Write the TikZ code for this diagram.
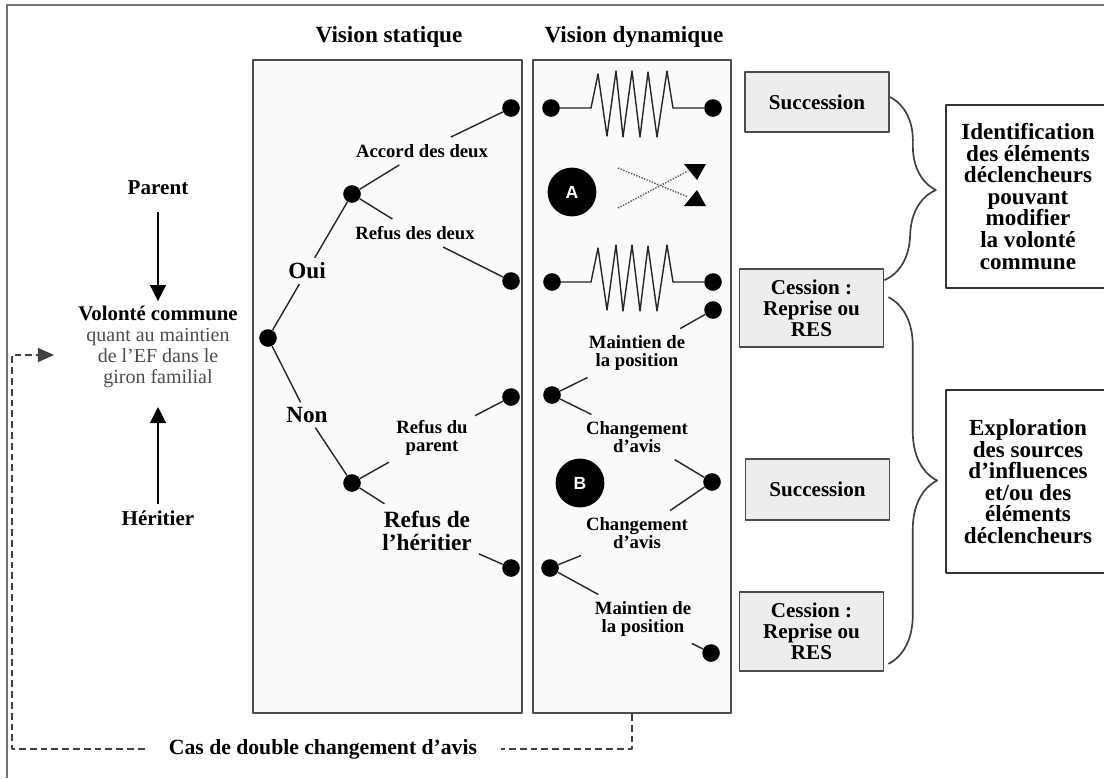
\documentclass[tikz,border=0pt]{standalone}
\usepackage{fontspec}
\setmainfont{Liberation Serif}
\newfontfamily\lettre{Liberation Sans}
\usetikzlibrary{arrows.meta,decorations.pathreplacing,calc}

% ressort entre deux points, #1 = ordonnee de la ligne
\newcommand{\ressort}[1]{-- (591,#1) -- (598,#1-34) -- (607,#1+28) -- (616,#1-37) -- (623,#1+29) -- (632,#1-37) -- (640,#1+29) -- (648,#1-36) -- (657,#1+29) -- (667,#1-37) -- (673,#1)}

\begin{document}
\begin{tikzpicture}[x=0.025cm, y=-0.025cm, line join=round,
  cadre/.style={draw=black!70, line width=1.2pt, fill=black!2, minimum height=16.325cm},
  boite/.style={draw=black!70, line width=1.2pt, fill=black!7, minimum width=3.6cm, align=center, font=\fontsize{15}{15}\selectfont\bfseries},
  grande/.style={draw=black!80, line width=1.3pt, fill=white, minimum width=4.1cm, minimum height=4.575cm, align=center, font=\fontsize{16.4}{15.3}\selectfont\bfseries},
  pt/.style={circle, fill=black, minimum size=0.44cm, inner sep=0pt},
  lab/.style={align=center, inner sep=5pt, font=\fontsize{13.3}{12.3}\selectfont\bfseries},
  titre/.style={font=\fontsize{16.5}{16.5}\selectfont\bfseries},
  rond/.style={circle, fill=black, minimum size=1.22cm, inner sep=0pt, text=white, font=\lettre\bfseries\fontsize{12.5}{12.5}\selectfont},
  branche/.style={line width=1pt, black!85},
  fleche/.style={line width=0.8pt, -{Triangle[width=0.4cm,length=0.4cm]}},
  retour/.style={black!75, line width=1pt, dash pattern=on 0.17cm off 0.1cm},
  accolade/.style={decorate, decoration={brace, amplitude=1.22cm}, line width=1.2pt, black!75}]

\useasboundingbox (0,0) rectangle (1104,778);
\clip (0,0) rectangle (1104,778);
\draw[black!55, line width=1pt] (7,778) -- (7,5) -- (1104,5);

% les deux visions
\node[cadre, minimum width=6.725cm] (statique) at (387.5,386.5) {};
\node[cadre, minimum width=4.95cm] (dynamique) at (632,386.5) {};
\node[titre] (ts) at (389,37) {Vision statique};
\node[titre] (td) at (634,37) {Vision dynamique};

% volonte commune
\node[font=\fontsize{15}{15}\selectfont\bfseries] (parent) at (158,188) {Parent};
\node[align=center, text=black!70, font=\fontsize{14.2}{15}\selectfont] (volonte) at (158,347)
  {{\fontsize{14.8}{15}\selectfont\bfseries\color{black}Volonté commune}\\quant au maintien\\de l’EF dans le\\giron familial};
\node[font=\fontsize{15}{15}\selectfont\bfseries] (heritier) at (158,518) {Héritier};
\draw[fleche, shorten <=0.3cm] (parent) -- (volonte);
\draw[fleche, shorten <=0.05cm, shorten >=0.35cm] (heritier) -- (volonte);

% arbre statique
\node[pt] (racine) at (268,338) {};
\node[titre] (oui) at (307,271) {Oui};
\node[titre] (non) at (307,415) {Non};
\node[pt] (p1) at (352,194) {};
\node[pt] (p2) at (352,483) {};
\node[lab] (accord) at (422,151) {Accord des deux};
\node[lab] (refus) at (415,233) {Refus des deux};
\node[lab] (rparent) at (432,438) {Refus du\\parent};
\node[lab, font=\fontsize{16.6}{16.5}\selectfont\bfseries] (rheritier) at (427,531) {Refus de\\l’héritier};
\node[pt] (s1) at (511,108) {};
\node[pt] (s2) at (511,281) {};
\node[pt] (s3) at (511,397) {};
\node[pt] (s4) at (511,568) {};
\draw[branche] (racine) -- (oui) -- (p1);
\draw[branche] (p1) -- (accord) -- (s1);
\draw[branche] (p1) -- (refus) -- (s2);
\draw[branche] (racine) -- (non) -- (p2);
\draw[branche] (p2) -- (rparent) -- (s3);
\draw[branche] (p2) -- (rheritier) -- (s4);

% vision dynamique
\node[pt] (d1) at (551,108) {};
\node[pt] (d2) at (713,108) {};
\draw[branche] (d1) \ressort{108} -- (d2);
\node[rond] (A) at (572,192) {A};
\coordinate (x1) at (618,168);
\coordinate (x2) at (688,197);
\coordinate (x3) at (618,208);
\coordinate (x4) at (688,171);
\draw[black!65, densely dotted, line width=1pt] (x1) -- (x2) (x3) -- (x4);
\fill (684,164) -- (706,164) -- (697,180) -- cycle;
\fill (697,190) -- (684,206) -- (706,206) -- cycle;
\node[pt] (d3) at (552,282) {};
\node[pt] (d4) at (713,282) {};
\draw[branche] (d3) \ressort{282} -- (d4);

\node[pt] (d5) at (713,310) {};
\node[lab] (m1) at (637,353) {Maintien de\\la position};
\node[pt] (d6) at (552,395) {};
\node[lab] (c1) at (637,437) {Changement\\d’avis};
\node[pt] (d7) at (712,482) {};
\node[rond] (B) at (580,483) {B};
\node[lab] (c2) at (637,533) {Changement\\d’avis};
\node[pt] (d8) at (550,568) {};
\node[lab] (m2) at (643,619) {Maintien de\\la position};
\node[pt] (d9) at (711,653) {};
\draw[branche] (d5) -- (m1) -- (d6) -- (c1) -- (d7) -- (c2) -- (d8) -- (m2) -- (d9);

% issues
\node[boite, minimum height=1.5cm] (succ1) at (817,102) {Succession};
\node[boite, minimum height=1.95cm] (cess1) at (811.5,308) {Cession :\\Reprise ou\\RES};
\node[boite, minimum height=1.525cm] (succ2) at (817.5,489.5) {Succession};
\node[boite, minimum height=1.975cm] (cess2) at (811.5,631.5) {Cession :\\Reprise ou\\RES};
\draw[accolade] ([yshift=0.125cm]succ1.east) -- ([yshift=-0.3cm]cess1.north east);
\draw[accolade] ([xshift=0.1cm, yshift=-0.725cm]cess1.north east) -- ([xshift=0.1cm, yshift=0.2cm]cess2.south east);
\node[grande] (ident) at (1028,196.5) {Identification\\des éléments\\déclencheurs\\pouvant\\modifier\\la volonté\\commune};
\node[grande] (explo) at (1028,481.5) {Exploration\\des sources\\d’influences\\et/ou des\\éléments\\déclencheurs};

% double changement d'avis
\node[font=\fontsize{15.4}{15.4}\selectfont\bfseries, inner xsep=0.6cm] (cas) at (323,749) {Cas de double changement d’avis};
\coordinate (bord) at (12,0);
\coordinate (entree) at (54,355);
\draw[retour] (dynamique.south) |- (cas.east);
\draw[retour, -{Triangle[width=0.35cm,length=0.4cm]}] (cas.west) -- (cas.west -| bord) |- (entree);
\end{tikzpicture}
\end{document}
